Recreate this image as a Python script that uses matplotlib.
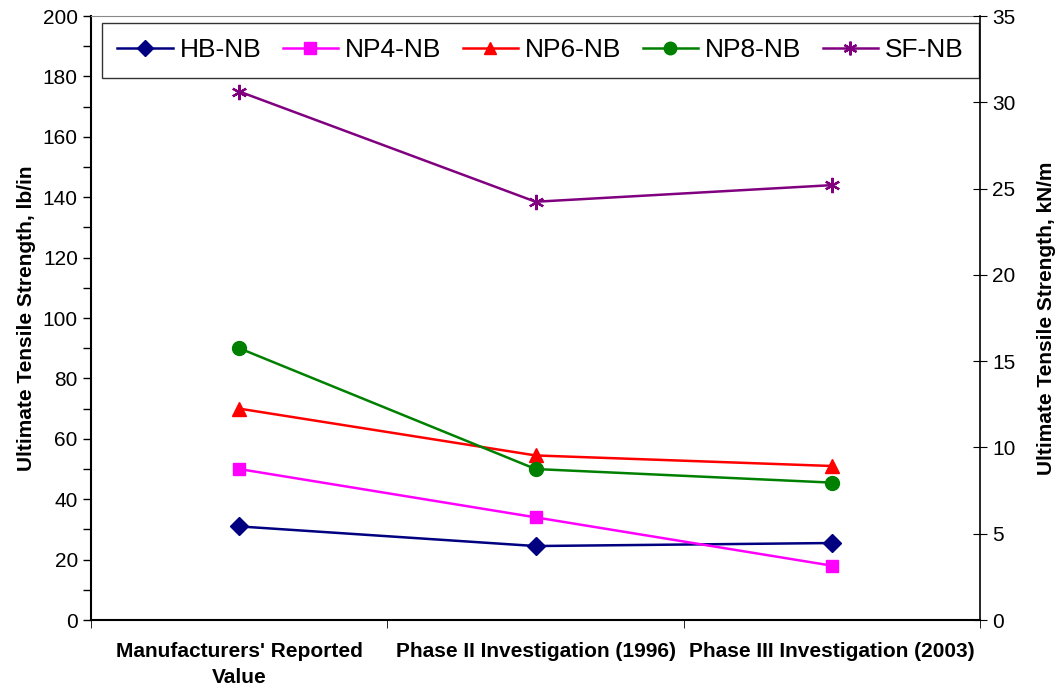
import matplotlib
matplotlib.use("Agg")
import matplotlib.pyplot as plt
from matplotlib.ticker import MultipleLocator, FixedLocator

plt.rcParams["font.family"] = ["Liberation Sans", "DejaVu Sans"]

categories = ["Manufacturers' Reported\nValue",
              "Phase II Investigation (1996)",
              "Phase III Investigation (2003)"]

# ultimate tensile strength, lb/in
hb_nb = [31, 24.5, 25.5]
np4_nb = [50, 34, 18]
np6_nb = [70, 54.5, 51]
np8_nb = [90, 50, 45.5]
sf_nb = [175, 138.5, 144]

series = [
    ("HB-NB", hb_nb, "#000080", "D", 9),
    ("NP4-NB", np4_nb, "#FF00FF", "s", 9),
    ("NP6-NB", np6_nb, "#FF0000", "^", 10),
    ("NP8-NB", np8_nb, "#008000", "o", 10),
    ("SF-NB", sf_nb, "#800080", "x", 11),
]

fig = plt.figure(figsize=(10.55, 6.9), dpi=100)
ax = fig.add_axes([0.0863, 0.1014, 0.8427, 0.8754])

x = list(range(len(categories)))
for name, vals, col, mk, ms in series:
    if mk == "x":
        # asterisk-like star marker
        ax.plot(x, vals, color=col, lw=1.8, marker=(6, 2, 0), ms=ms,
                mew=1.6, label=name)
    else:
        ax.plot(x, vals, color=col, lw=1.8, marker=mk, ms=ms,
                mec=col, mfc=col, label=name)

ax.set_xlim(-0.5, 2.5)
ax.set_ylim(0, 200)
ax.yaxis.set_major_locator(MultipleLocator(20))
ax.yaxis.set_minor_locator(MultipleLocator(10))
ax.tick_params(axis="y", which="both", direction="out", length=6,
               labelsize=15, width=1)
ax.set_xticks(x)
ax.set_xticklabels(categories, fontsize=15, fontweight="bold",
                   linespacing=1.45)
ax.xaxis.set_minor_locator(FixedLocator([-0.5, 0.5, 1.5, 2.5]))
ax.tick_params(axis="x", which="major", length=0, pad=16)
ax.tick_params(axis="x", which="minor", direction="out", length=6)
ax.set_ylabel("Ultimate Tensile Strength, lb/in", fontsize=15,
              fontweight="bold", labelpad=5)

for side in ["left", "bottom"]:
    ax.spines[side].set_linewidth(1.5)
ax.spines["top"].set_color("#888888")
ax.spines["right"].set_visible(False)

ax2 = ax.twinx()
ax2.set_ylim(0, 35)
ax2.yaxis.set_major_locator(MultipleLocator(5))
ax2.tick_params(axis="y", direction="inout", length=10, labelsize=15)
ax2.set_ylabel("Ultimate Tensile Strength, kN/m", fontsize=15,
               fontweight="bold", labelpad=16)
ax2.spines["right"].set_linewidth(1.2)
ax2.spines["top"].set_visible(False)
ax2.spines["left"].set_visible(False)
ax2.spines["bottom"].set_visible(False)

leg = ax.legend(loc="upper left", bbox_to_anchor=(0.0124, 0.9884, 0.9865, 0.0),
                mode="expand", borderaxespad=0, ncol=5, fontsize=19,
                frameon=True, fancybox=False, edgecolor="black",
                handlelength=2.1, handletextpad=0.27, borderpad=0.58,
                columnspacing=0.9, markerscale=0.9)
leg.get_frame().set_linewidth(1.0)

fig.savefig("out.png", dpi=100)
